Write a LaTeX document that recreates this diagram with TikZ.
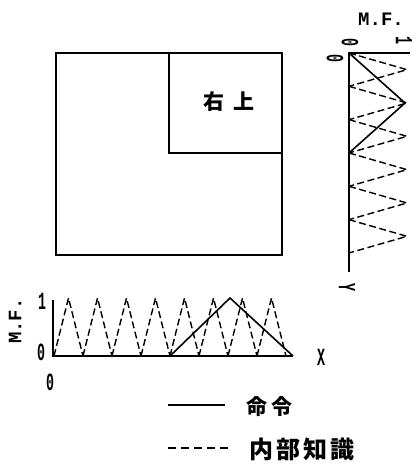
\documentclass[tikz,border=0pt]{standalone}
\usepackage{fontspec}
\usepackage{graphicx}
\newfontfamily\jpfont{Noto Sans CJK JP}
\newfontfamily\lblfont{Liberation Mono}
\newcommand{\nar}[1]{\scalebox{.7}[1.3]{#1}}

\begin{document}
\begin{tikzpicture}
  [x=1pt, y=-1pt, line join=miter,
   frame/.style={draw=black, line width=1.4pt},
   axis/.style={draw=black, line width=1.6pt},
   cmd/.style={draw=black, line width=1.6pt},
   know/.style={draw=black, line width=1.4pt, dash pattern=on 7pt off 3.5pt},
   lbl/.style={font=\lblfont\bfseries\fontsize{19}{19}\selectfont, inner sep=0pt},
   jp/.style={font=\jpfont\bfseries\fontsize{21}{21}\selectfont, inner sep=0pt}]

  \useasboundingbox (0,0) rectangle (417,465);

  % field and its upper right part
  \draw[frame] (56,53) rectangle (282,255);
  \draw[frame] (169,53) rectangle (282,153);
  \node[jp] (ur) at (229,102) {右\hspace{10pt}上};

  % X axis
  \coordinate (xo) at (53,356);
  \coordinate (xend) at (293,356);
  \coordinate (xtop) at (53,300);
  \draw[axis] (xtop) -- (xo) -- (xend);
  \foreach \i in {0,...,7}
    \draw[know] (54+29*\i,356) -- (68.5+29*\i,298) -- (83+29*\i,356);
  \draw[cmd] (170,356) -- (230,298) -- (xend);

  \node[lbl, rotate=90] (xmf) at (15,321) {M.F.};
  \node[lbl] (x1) at (42,301) {\nar{1}};
  \node[lbl] (x0) at (41,352) {\nar{0}};
  \node[lbl] (xx0) at (50,382) {\nar{0}};
  \node[lbl] (xx) at (321,357) {\nar{X}};

  % Y axis
  \coordinate (yo) at (349,53);
  \coordinate (yend) at (349,272);
  \coordinate (yright) at (410,53);
  \draw[axis] (yright) -- (yo) -- (yend);
  \foreach \i in {0,...,5}
    \draw[know] (349,53+33.33*\i) -- (407,69.67+33.33*\i) -- (349,86.33+33.33*\i);
  \draw[cmd] (yo) -- (405,103) -- (349,153);

  \node[lbl] (ymf) at (381,19) {M.F.};
  \node[lbl, rotate=-90] (y0) at (350,42) {\nar{0}};
  \node[lbl, rotate=-90] (y1) at (404,40) {\nar{1}};
  \node[lbl, rotate=-90] (yy0) at (335,58) {\nar{0}};
  \node[lbl, rotate=-90] (yy) at (347,287) {\nar{Y}};

  % legend
  \coordinate (la) at (168,405);
  \coordinate (lb) at (225,405);
  \coordinate (lc) at (168,448);
  \coordinate (ld) at (228,448);
  \draw[cmd] (la) -- (lb);
  \node[jp, anchor=west] (lcmd) at (246,407) {命\hspace{4pt}令};
  \draw[know, dash pattern=on 8pt off 5pt] (lc) -- (ld);
  \node[jp, font=\jpfont\bfseries\fontsize{24}{24}\selectfont, anchor=west] (lknow) at (249,449)
    {内\hspace{3pt}部\hspace{3pt}知\hspace{3pt}識};
\end{tikzpicture}
\end{document}
